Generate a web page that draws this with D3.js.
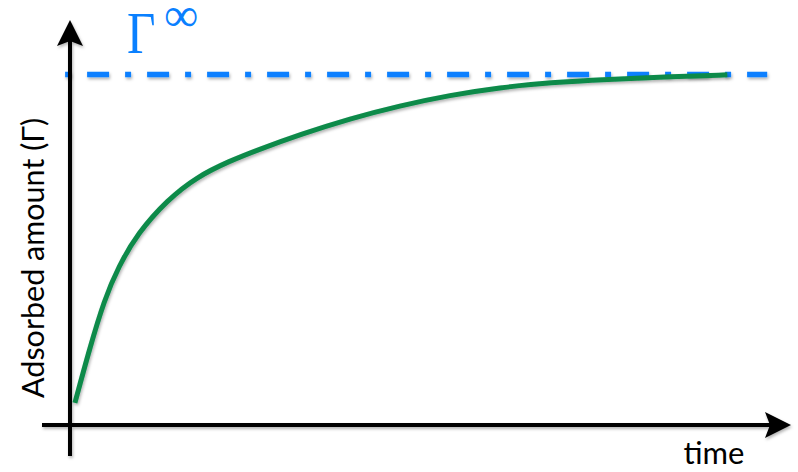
<!DOCTYPE html>
<html><head><meta charset="utf-8">
<script src="https://cdn.jsdelivr.net/npm/d3@7"></script>
<style>html,body{margin:0;padding:0;background:#fff;}svg{display:block;}</style>
</head><body>
<svg id="chart" width="798" height="472"></svg>
<script>
// Data (time in arbitrary units, adsorbed amount as % of Γ∞)
const times   = [0.7, 2.8, 4.9, 6.9, 9.7, 13.9, 18.1, 22.9, 26.7, 32.9, 40.0, 47.1, 54.3, 61.4, 68.6, 76.7, 86.1, 93.9];
const amounts = [6.3, 21.8, 35.7, 45.1, 54.8, 64.2, 70.8, 75.4, 78.4, 82.9, 87.4, 91.1, 94.1, 96.3, 97.7, 98.6, 99.4, 99.9];
const gammaInf = 100;
const xLabel = "time";
const yLabel = "Adsorbed amount (Γ)";

const svg = d3.select("#chart");
const x = d3.scaleLinear().domain([0, 100]).range([70, 770]);
const y = d3.scaleLinear().domain([0, 100]).range([425, 74.5]);

const defs = svg.append("defs");
const f = defs.append("filter").attr("id","sh").attr("filterUnits","userSpaceOnUse")
  .attr("x",0).attr("y",0).attr("width",798).attr("height",472);
f.append("feDropShadow").attr("dx",1).attr("dy",2).attr("stdDeviation",1.5).attr("flood-color","#000").attr("flood-opacity",0.3);

// asymptote line
svg.append("line")
  .attr("x1", x(-0.7)).attr("x2", x(99.6))
  .attr("y1", y(gammaInf)).attr("y2", y(gammaInf))
  .attr("stroke", "#0a80ff").attr("stroke-width", 5.5)
  .attr("stroke-dasharray", "6,16,22,16")
  .attr("filter","url(#sh)");

// axes
const axisColor = "#000";
const x0 = x(0), y0 = y(0);
const ax = svg.append("g").attr("filter","url(#sh)");
ax.append("line").attr("x1", x0).attr("x2", x0).attr("y1", 456).attr("y2", 40)
  .attr("stroke", axisColor).attr("stroke-width", 4);
ax.append("path").attr("d", `M${x0},20 L${x0+13},46 L${x0},41 L${x0-13},46 Z`).attr("fill", axisColor);
ax.append("line").attr("x1", 42).attr("x2", 772).attr("y1", y0).attr("y2", y0)
  .attr("stroke", axisColor).attr("stroke-width", 4);
ax.append("path").attr("d", `M791,${y0} L765,${y0-13} L770,${y0} L765,${y0+13} Z`).attr("fill", axisColor);

// curve
const line = d3.line().x((d,i)=>x(times[i])).y((d,i)=>y(amounts[i])).curve(d3.curveBasis);
svg.append("path").datum(amounts).attr("d", line)
  .attr("fill","none").attr("stroke","#0a8a4a").attr("stroke-width",5)
  .attr("filter","url(#sh)");

// labels
svg.append("text").attr("transform","translate(127,53) scale(0.82,1)").attr("fill","#0a80ff")
  .attr("font-family","'Liberation Serif','DejaVu Serif',serif").attr("font-size",60).text("Γ");
svg.append("text").attr("x",164).attr("y",31).attr("fill","#0a80ff")
  .attr("font-family","'Liberation Serif','DejaVu Serif',serif").attr("font-size",48).text("∞");

svg.append("text").attr("x", 714).attr("y", 464).attr("text-anchor","middle")
  .attr("font-family","Lato, 'Open Sans', sans-serif").attr("font-size",31).attr("fill","#000")
  .text(xLabel);

svg.append("text").attr("transform","translate(44,398) rotate(-90)")
  .attr("font-family","Lato, 'Open Sans', sans-serif").attr("font-size",30.5).attr("fill","#000")
  .text(yLabel);
</script>
</body></html>
